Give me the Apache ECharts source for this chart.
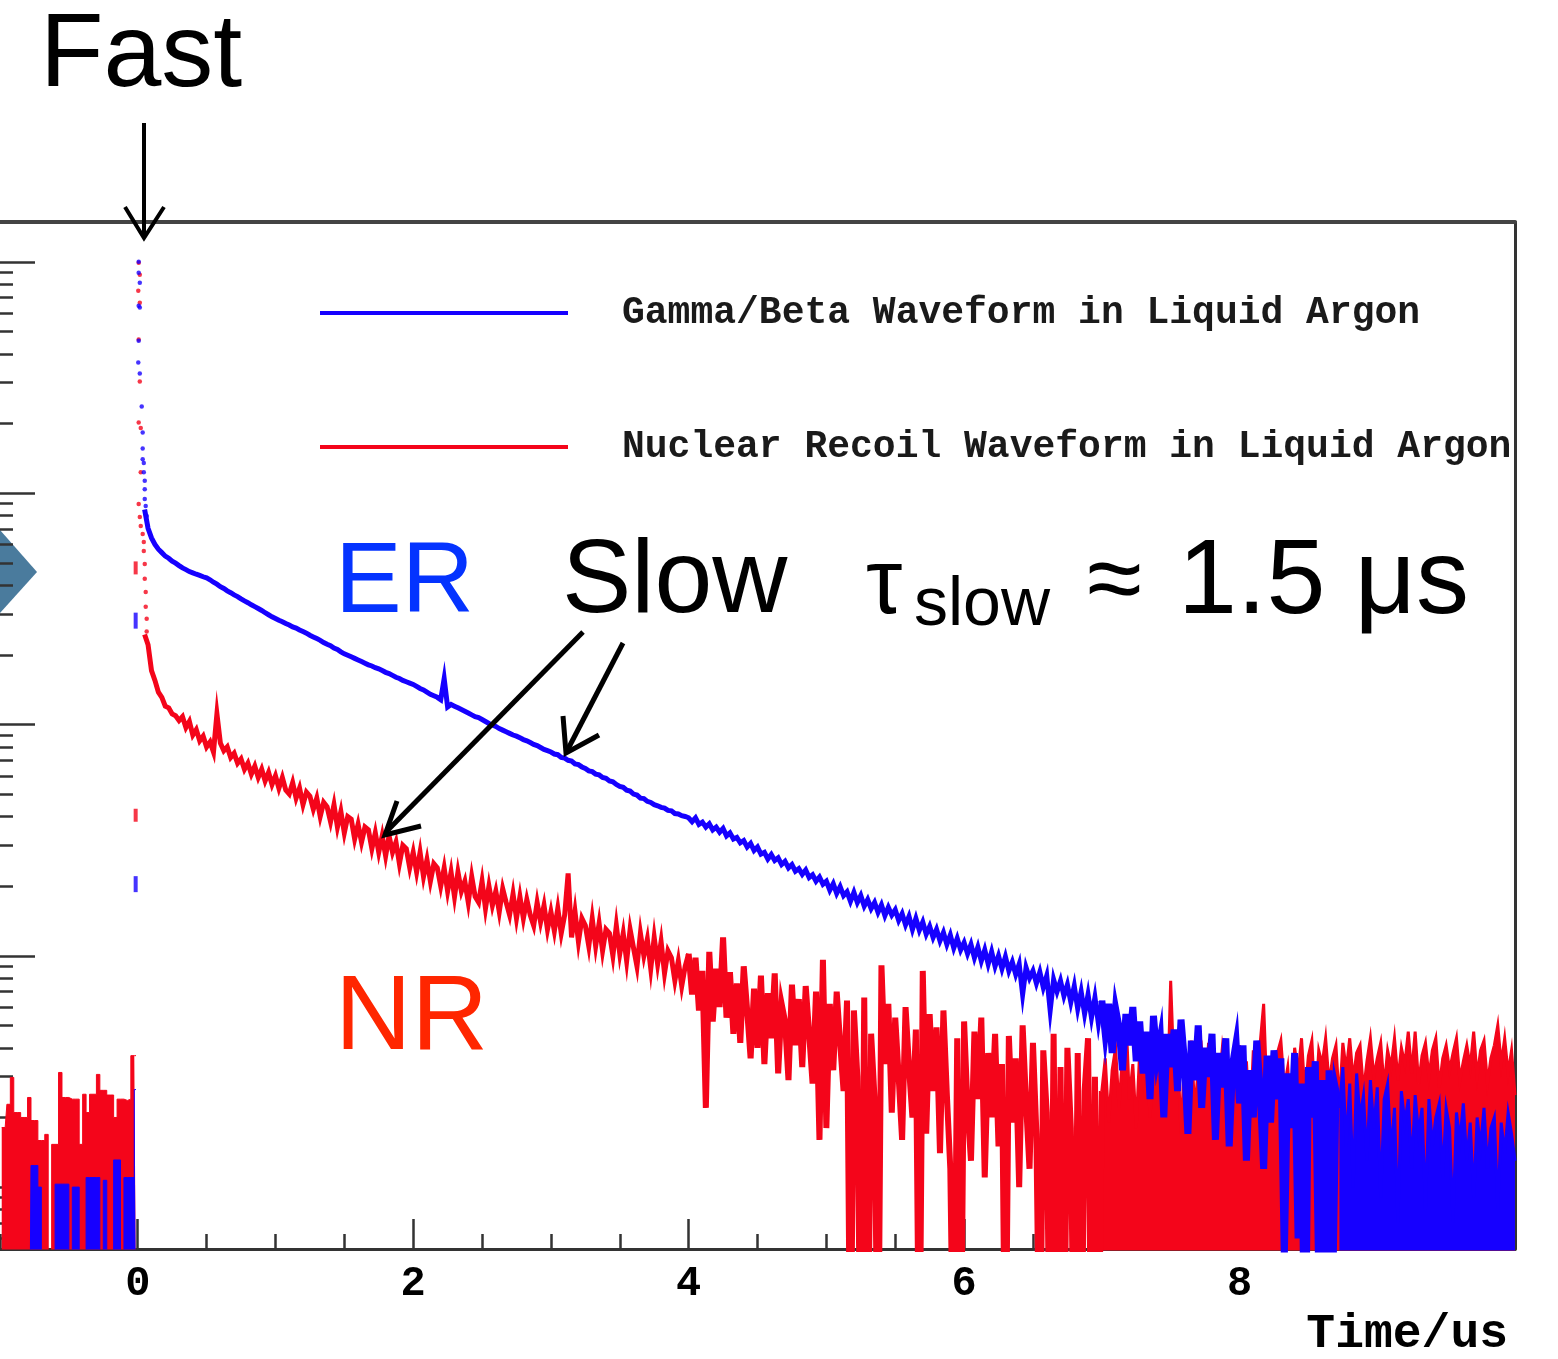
<!DOCTYPE html>
<html>
<head>
<meta charset="utf-8">
<script src="https://cdn.jsdelivr.net/npm/echarts@6/dist/echarts.min.js"></script>
<style>
html,body{margin:0;padding:0;background:#ffffff;}
#chart{width:1558px;height:1359px;}
</style>
</head>
<body>
<div id="chart"></div>
<script>
// ---------------- data ----------------
const ER_NAME = 'Gamma/Beta Waveform in Liquid Argon';
const NR_NAME = 'Nuclear Recoil Waveform in Liquid Argon';

// histogram binning (us)
const binWidth = 0.025;
const preFirstCenter = -0.9875;   // pre-trigger bins: -1 .. 0
const slowFirstCenter = 0.05;     // waveform bins after the prompt peak

// pre-trigger baseline (0.1 = empty bin, below the axis)
const nrPre = [1.81,1.81,2.28,2.98,2.1,2.1,2.0,2.0,2.44,1.94,
               1.94,1.59,1.59,1.69,0.1,1.53,1.53,3.13,2.44,2.44,
               2.4,2.4,2.4,1.53,2.52,2.1,2.52,2.52,3.07,2.62,
               2.62,2.5,2.5,2.0,2.4,2.4,2.37,2.4,3.7,3.7];
const erPre = [0.1,0.1,0.1,0.1,0.1,0.1,0.1,0.1,0.1,1.24,
               1.24,1.0,0.1,0.1,0.1,0.1,1.03,1.03,1.03,1.03,
               0.1,1.0,1.0,0.1,0.1,1.1,1.1,1.1,1.1,0.1,
               1.07,0.1,0.1,1.31,1.31,0.1,1.1,1.1,1.1,2.64];

// prompt (fast) peak bins
const erPeakTime = [0.007,0.007,0.015,0.007,0.015,0.007,0.004,0.015,0.029,0.036,0.036,0.036,0.044,0.044,0.051,0.051,0.051,0.058,0.065];
const erPeakVal  = [10000,8970,8110,6460,6340,4560,3670,3290,2370,1830,1560,1400,1350,1230,1130,1040,942,879,796];
const nrPeakTime = [0.007,0.015,0.004,0.015,0.007,0.015,0.007,0.022,0.022,0.007,0.015,0.022,0.036,0.044,0.044,0.051,0.051,0.058,0.058,0.065,0.065];
const nrPeakVal  = [9900,8790,7500,6660,4610,3040,2020,1910,1230,897,788,721,666,615,562,494,426,374,323,286,252];

// fragments of the rising edge just before t = 0
const riseTime = -0.015;
const nrRiseVal = [475, 40.5];
const erRiseVal = [281, 20.4];

// slow component (bins from 0.05 us to 10.0 us)
const erWave = [
850,705,640,600,572,553,534,523,508,498,
486,475,467,458,452,446,441,435,430,422,
412,404,394,387,378,371,363,357,349,342,
336,329,323,317,311,304,298,292,287,282,
278,273,269,264,261,256,252,248,243,239,
235,231,226,222,219,214,211,206,202,199,
196,193,190,187,184,181,179,176,174,171,
168,166,163,160,158,155,153,151,149,146,
143,141,138,135,133,131,128,158,119,122,
120,118,116,114,112,110,108,107,105,103,
101,99.5,98,96,94.5,93,91.5,90,89,87.5,
86,85,83.5,82,81,79.5,78,77,76,74.5,
74,72,71.5,70,69.5,67.5,67,65.5,64.5,63,
62.5,61,60.5,59,58.5,57,56.5,55,54,53.5,
52,51.5,50,49.5,48,47.8,46.5,46,45,44.5,
43.8,43.5,42.5,42.3,41.2,41,40.3,40,39.5,38,
39.5,37,37.8,36,37.2,35,36,34.2,35.5,33,
34,32,32.5,30.8,31.5,29.5,30.6,28.5,29.5,27.5,
28,26.2,27.4,25.8,26.5,24.8,25.6,24,24.8,23.2,
23.8,22.5,23.5,21.8,22.4,21,21.9,20.4,21,19.2,
20.5,18.6,19.9,18.2,18.9,17.2,18.8,17.0,18.2,16.4,
17.5,16.0,17.0,15.4,16.6,14.9,16.2,15.0,15.8,14.2,
15.2,13.6,14.8,13.0,14.5,12.9,14.0,12.4,13.4,12.0,
13.0,11.6,12.6,11.2,12.3,10.8,11.9,10.6,11.4,10.2,
11.2,9.8,10.9,9.5,10.6,9.2,10.4,9.0,10.0,8.8,
9.9,8.6,9.4,8.3,9.2,6.8,8.9,8.0,8.6,7.6,
8.5,7.3,8.2,5.8,7.9,7.0,7.8,6.7,7.5,6.3,
7.4,5.9,7.0,5.6,6.8,5.4,6.6,5.1,6.4,4.6,
6.2,3.8,5.9,4.9,3.2,5.6,4.1,6.0,3.5,5.2,
3.1,4.7,2.4,5.5,3.6,4.4,2.0,4.6,3.3,4.8,
2.6,5.3,3.5,1.7,4.3,2.9,5.0,2.2,4.0,3.0,
4.6,1.6,3.8,2.7,4.4,1.5,3.4,4.2,2.3,4.1,
1.3,3.2,2.0,4.3,2.6,1.2,3.7,1.9,3.9,2.4,
3.6,0.5,3.1,1.8,3.8,0.6,2.8,0.1,3.3,2.0,
3.5,0.4,2.9,0.1,3.2,0.3,2.6,2.2,3.3,1.5,
2.8,1.0,3.1,2.0,2.5,1.3,2.9,1.8,2.7,0.9,
2.4,2.8,1.4,2.2,0.7,2.6,1.9,2.4,1.2,2.5,
1.7,2.2,0.8,2.4,1.5,2.0,2.3,1.1,2.2,1.8,
0.7,2.1,1.6,2.3,1.3,1.9,0.9,2.0,1.5,2.2,
1.2,1.8,2.0,0.8,1.9,1.4,2.1,1.7,1.3];

const nrWave = [
245,221,171,155,138,131,120,118,111,109,
104,108,97,103,90,95,85,89,80,84,
76,111,83,77,80,72,75,68,71,64,
68,61,66,59,64,57,62,55,60,53,
59,52,50,56,48,53,45,51,49,43,
48,40,46,44,38,45,36,42,34,40,
39,32,37,31,36,35,29,34,28,33,
27,33,28,31,25,30,29,24,28,23,
28,22,26,21,25,24,20,24,19,23,
18,23,19,21,17,22,18,17,21,16,
20,16.5,19,15.5,19.5,17,15,18.5,14.5,18,
14.5,17.5,15,13.5,17,14,16.5,13,15.5,12.8,
16,12.5,15,22.7,12,15.5,11.5,14.5,13.5,11,
14.5,11,13.8,10.5,13,12.5,10,13.5,10.2,12.5,
9.5,13,10.8,9,12.5,10,11.8,8.8,12,9.2,
11.5,8.4,10.5,9.8,7.8,9.5,7.4,9.0,10.2,6.8,
9.8,5.8,8.6,2.2,10.4,5.2,8.8,6.0,12.0,5.4,
8.5,4.6,7.6,4.2,9.0,5.8,3.6,7.2,4.0,8.2,
3.4,6.9,4.4,8.4,3.1,6.2,5.2,2.9,7.5,4.1,
6.5,3.3,7.4,4.6,2.8,7.0,1.6,9.6,1.8,6.2,
3.2,7.0,4.2,2.6,6.4,0.1,5.8,3.0,0.1,6.6,
0.1,4.6,2.4,0.1,9.1,3.4,6.2,2.1,5.4,3.0,
1.6,6.0,3.3,2.0,4.8,0.1,8.6,1.7,5.6,2.6,
4.9,1.4,5.8,2.5,1.2,0.1,4.4,0.1,5.2,2.2,
1.3,4.7,2.4,5.4,1.1,3.8,2.0,4.6,1.5,3.4,
0.1,4.5,1.9,3.6,1.0,5.0,2.3,1.2,4.2,1.7,
0.1,3.9,2.1,0.1,4.6,0.1,3.3,0.1,4.0,1.8,
0.1,3.8,0.1,2.6,4.4,0.1,3.0,0.1,2.6,3.6,
1.9,3.2,4.0,2.2,3.7,5.6,2.4,3.4,1.8,3.9,
2.9,4.1,2.0,3.5,4.2,2.6,3.8,2.3,7.8,3.0,
4.0,1.7,3.6,2.8,4.3,2.1,3.3,3.9,2.5,4.2,
1.9,3.4,2.7,4.0,3.1,1.6,3.7,2.6,4.1,2.2,
3.5,1.8,3.9,2.9,4.2,6.2,2.4,3.6,2.0,3.8,
4.3,2.7,3.3,1.9,4.0,3.1,4.4,2.5,3.7,4.3,
2.2,3.9,3.4,4.4,2.8,3.6,4.1,2.3,4.2,3.2,
4.4,2.9,3.8,4.1,2.6,3.5,4.4,3.0,3.6,4.2,
2.7,3.9,3.3,4.4,2.9,4.0,3.4,4.7,3.1,4.7,
2.8,3.7,4.2,3.0,3.9,4.4,2.7,3.6,4.1,3.2,
3.8,4.4,2.9,3.5,4.1,3.3,4.7,3.0,3.9,4.3,
2.8,3.6,4.1,5.0,3.4,4.4,3.1,3.9,2.5];

// bins where the noise gets denser (thicker trace) and where it fills down to the axis
const nrDenseFrom = 158;  // t = 4.0 us
const nrFillFrom = 278;   // t = 7.0 us
const erDenseFrom = 278;  // t = 7.0 us
const erFillFrom = 347;   // t = 8.725 us

// axis ticks
const xMajorTicks = [0, 2, 4, 6, 8];
const yRange = [0.54, 14860];
const yDecadeTicks = [1, 10, 100, 1000, 10000];
const yMinorTicks = [0.6,0.7,0.8,0.9, 2,3,4,5,6,7,8,9, 20,30,40,50,60,70,80,90,
                     200,300,400,500,600,700,800,900, 2000,3000,4000,5000,6000,7000,8000,9000];

// ---------------- build ----------------
const RED = '#f4051a';
const BLUE = '#1600ff';
const preTimes = nrPre.map((_, j) => preFirstCenter + j * binWidth);
const slowTimes = nrWave.map((_, i) => slowFirstCenter + i * binWidth);
const zip = (ts, vs) => vs.map((v, i) => [ts[i], v]);

const nrSlowAll = zip(slowTimes, nrWave);
const erSlowAll = zip(slowTimes, erWave);

function lineSeries(name, color, data, width, fill, step) {
  const s = {
    name: name, type: 'line', data: data, step: step, symbol: 'none',
    showSymbol: false, clip: true,
    lineStyle: { color: color, width: width, join: 'miter' },
    itemStyle: { color: color },
    emphasis: { disabled: true }, silent: true
  };
  if (fill) s.areaStyle = { color: color, opacity: 1, origin: 0.3 };
  return s;
}
function dotSeries(name, color, data, symbol, size) {
  return {
    name: name, type: 'scatter', data: data, symbol: symbol, symbolSize: size,
    itemStyle: { color: color }, emphasis: { disabled: true }, silent: true, clip: true
  };
}

const series = [
  lineSeries(NR_NAME, RED, zip(preTimes, nrPre), 1, true, 'middle'),
  lineSeries(NR_NAME, RED, nrSlowAll.slice(0, nrDenseFrom + 1), 5, false, false),
  lineSeries(NR_NAME, RED, nrSlowAll.slice(nrDenseFrom, nrFillFrom + 1), 6, false, false),
  lineSeries(NR_NAME, RED, nrSlowAll.slice(nrFillFrom), 3, true, false),
  dotSeries(NR_NAME, RED, zip(nrPeakTime, nrPeakVal), 'circle', 4.5),
  dotSeries(NR_NAME, RED, nrRiseVal.map(v => [riseTime, v]), 'rect', [4, 13]),
  lineSeries(ER_NAME, BLUE, zip(preTimes, erPre), 1, true, 'middle'),
  lineSeries(ER_NAME, BLUE, erSlowAll.slice(0, erDenseFrom + 1), 5, false, false),
  lineSeries(ER_NAME, BLUE, erSlowAll.slice(erDenseFrom, erFillFrom + 1), 7, false, false),
  lineSeries(ER_NAME, BLUE, erSlowAll.slice(erFillFrom), 3, true, false),
  dotSeries(ER_NAME, BLUE, zip(erPeakTime, erPeakVal), 'circle', 4.5),
  dotSeries(ER_NAME, BLUE, erRiseVal.map(v => [riseTime, v]), 'rect', [4, 16])
];

const AX = '#333333';
const noAxisParts = { axisLabel: { show: false }, splitLine: { show: false } };

const option = {
  animation: false,
  backgroundColor: '#ffffff',
  grid: { left: 0, right: 43, top: 222, bottom: 107, containLabel: false },
  legend: {
    orient: 'vertical', left: 320, top: 293, padding: 0,
    itemWidth: 248, itemHeight: 4, itemGap: 94, icon: 'rect',
    selectedMode: false,
    data: [ER_NAME, NR_NAME],
    textStyle: { fontFamily: 'Liberation Mono', fontWeight: 'bold', fontSize: 38, lineHeight: 40,
                 color: '#1a1a1a', padding: [0, 0, 0, 49] }
  },
  xAxis: [
    Object.assign({
      type: 'value', min: -1, max: 10, position: 'bottom',
      axisLine: { show: true, onZero: false, lineStyle: { color: AX, width: 3 } },
      axisTick: { show: true, inside: true, length: 30, customValues: xMajorTicks, lineStyle: { color: AX, width: 2.5 } },
      name: 'Time/us', nameLocation: 'end', nameGap: -7,
      nameTextStyle: { fontFamily: 'Liberation Mono', fontWeight: 'bold', fontSize: 48, color: '#000',
                       align: 'right', verticalAlign: 'top', padding: [62, 0, 0, 0] }
    }, { splitLine: { show: false },
         axisLabel: { show: true, customValues: xMajorTicks, margin: 14, fontFamily: 'Liberation Mono',
                      fontWeight: 'bold', fontSize: 42, color: '#000' } }),
    Object.assign({
      type: 'value', min: -1, max: 10, interval: 0.5, position: 'bottom',
      axisLine: { show: false, onZero: false },
      axisTick: { show: true, inside: true, length: 15, lineStyle: { color: AX, width: 2.5 } }
    }, noAxisParts),
    Object.assign({
      type: 'value', min: -1, max: 10, position: 'top',
      axisLine: { show: true, onZero: false, lineStyle: { color: '#444', width: 4 } },
      axisTick: { show: false }
    }, noAxisParts)
  ],
  yAxis: [
    Object.assign({
      type: 'log', logBase: 10, min: yRange[0], max: yRange[1], position: 'left',
      axisLine: { show: false, onZero: false }, axisTick: { show: false }
    }, noAxisParts),
    Object.assign({
      type: 'log', logBase: 10, min: yRange[0], max: yRange[1], position: 'right',
      axisLine: { show: true, onZero: false, lineStyle: { color: AX, width: 3 } }, axisTick: { show: false }
    }, noAxisParts),
    Object.assign({
      type: 'value', min: Math.log10(yRange[0]), max: Math.log10(yRange[1]), position: 'left',
      axisLine: { show: false, onZero: false },
      axisTick: { show: true, inside: true, length: 35, customValues: yDecadeTicks.map(Math.log10),
                  lineStyle: { color: AX, width: 2.5 } }
    }, noAxisParts),
    Object.assign({
      type: 'value', min: Math.log10(yRange[0]), max: Math.log10(yRange[1]), position: 'left',
      axisLine: { show: false, onZero: false },
      axisTick: { show: true, inside: true, length: 13, customValues: yMinorTicks.map(Math.log10),
                  lineStyle: { color: AX, width: 2.5 } }
    }, noAxisParts)
  ],
  series: series,
  graphic: {
    elements: [
      { type: 'polygon', z: -1, shape: { points: [[0, 530], [37, 572], [0, 613]] }, style: { fill: '#4a7b9d' } },
      { type: 'text', z: 100, style: { x: 40, y: 57, text: 'Fast', fontSize: 104, fontFamily: 'Liberation Sans', fill: '#000', verticalAlign: 'middle' } },
      { type: 'line', z: 100, shape: { x1: 144, y1: 123, x2: 144, y2: 235 }, style: { stroke: '#000', lineWidth: 4 } },
      { type: 'polyline', z: 100, shape: { points: [[125, 207], [144, 238], [164, 207]] }, style: { stroke: '#000', lineWidth: 4, fill: null } },
      { type: 'text', z: 100, style: { x: 335, y: 584, text: 'ER', fontSize: 100, fontFamily: 'Liberation Sans', fill: '#0433ff', verticalAlign: 'middle' } },
      { type: 'text', z: 100, style: { x: 562, y: 583, text: 'Slow', fontSize: 104, fontFamily: 'Liberation Sans', fill: '#000', verticalAlign: 'middle' } },
      { type: 'text', z: 100, style: { x: 866, y: 588, text: 'τ', fontSize: 92, fontFamily: 'Liberation Sans', fill: '#000', verticalAlign: 'middle' } },
      { type: 'text', z: 100, style: { x: 914, y: 606, text: 'slow', fontSize: 68, fontFamily: 'Liberation Sans', fill: '#000', verticalAlign: 'middle' } },
      { type: 'text', z: 100, style: { x: 1087, y: 584, text: '≈', fontSize: 100, fontFamily: 'Liberation Sans', fill: '#000', verticalAlign: 'middle' } },
      { type: 'text', z: 100, style: { x: 1178, y: 584, text: '1.5 μs', fontSize: 106, fontFamily: 'Liberation Sans', fill: '#000', verticalAlign: 'middle' } },
      { type: 'text', z: 100, style: { x: 335, y: 1020, text: 'NR', fontSize: 106, fontFamily: 'Liberation Sans', fill: '#ff2600', verticalAlign: 'middle' } },
      { type: 'line', z: 100, shape: { x1: 583, y1: 632, x2: 388, y2: 830 }, style: { stroke: '#000', lineWidth: 5 } },
      { type: 'polyline', z: 100, shape: { points: [[397, 801], [385, 835], [421, 826]] }, style: { stroke: '#000', lineWidth: 5, fill: null } },
      { type: 'line', z: 100, shape: { x1: 623, y1: 643, x2: 568, y2: 749 }, style: { stroke: '#000', lineWidth: 5 } },
      { type: 'polyline', z: 100, shape: { points: [[563, 716], [566, 753], [599, 735]] }, style: { stroke: '#000', lineWidth: 5, fill: null } }
    ]
  }
};

const chart = echarts.init(document.getElementById('chart'), null, { renderer: 'canvas' });
chart.setOption(option);
</script>
</body>
</html>
